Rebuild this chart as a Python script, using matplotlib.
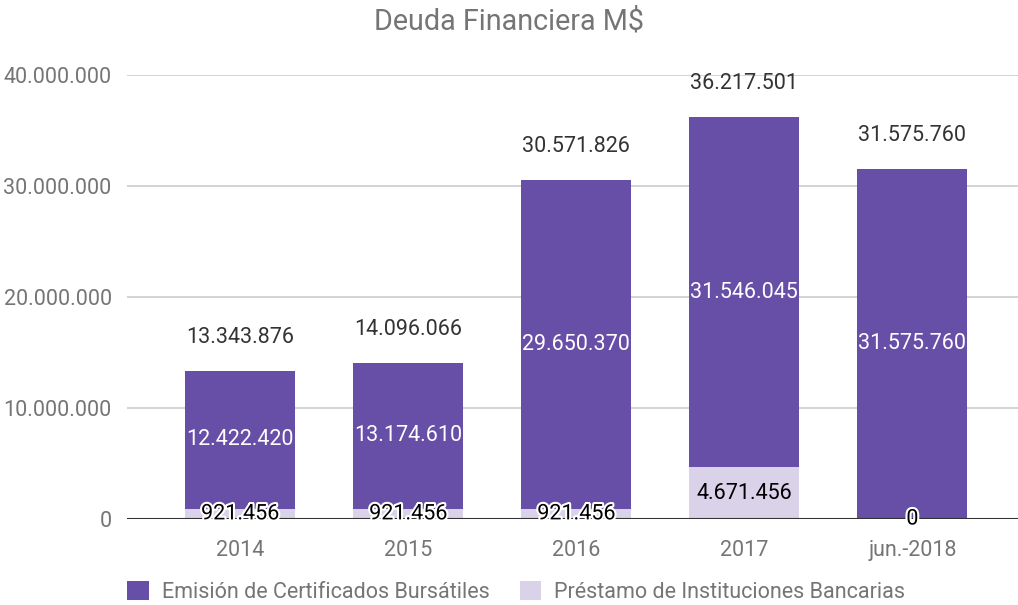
import matplotlib
matplotlib.use("Agg")
import matplotlib.pyplot as plt
import matplotlib.patheffects as pe
from matplotlib.patches import Patch

plt.rcParams['font.family'] = ['Roboto', 'DejaVu Sans']

categories = ["2014", "2015", "2016", "2017", "jun.-2018"]
emision = [12422420, 13174610, 29650370, 31546045, 31575760]
prestamo = [921456, 921456, 921456, 4671456, 0]
totals = [13343876, 14096066, 30571826, 36217501, 31575760]
yticks = [0, 10000000, 20000000, 30000000, 40000000]

dark = "#674ea7"
light = "#d9d2e9"
gray = "#757575"
FS = 15.5

def fmt(v):
    return f"{v:,.0f}".replace(",", ".")

W, H = 1018, 605
fig = plt.figure(figsize=(W/100, H/100), dpi=100)
ax = fig.add_axes([127/W, 1-519/H, (W-127)/W, (519-75)/H])

x = list(range(len(categories)))
bw = 0.655
ax.bar(x, prestamo, bw, color=light, zorder=2)
ax.bar(x, emision, bw, bottom=prestamo, color=dark, zorder=2)

ax.set_xlim((127-240)/168.1, (1018-240)/168.1)
ax.set_ylim(0, 40000000)
ax.set_yticks(yticks)
ax.set_yticklabels([fmt(v) for v in yticks])
ax.set_xticks(x)
ax.set_xticklabels(categories)
ax.tick_params(axis='both', length=0, labelsize=FS, colors=gray)
ax.tick_params(axis='y', pad=11)
ax.tick_params(axis='x', pad=15)
for s in ax.spines.values():
    s.set_visible(False)
ax.grid(axis='y', color="#cccccc", linewidth=1.2, zorder=0)
ax.set_axisbelow(True)
ax.axhline(0, color="#333333", linewidth=1.5, zorder=3)

halo = [pe.withStroke(linewidth=3, foreground="white")]
for i in x:
    p = prestamo[i]
    if p > 2000000:
        ax.text(i, p/2, fmt(p), ha='center', va='center', fontsize=FS, color='black', zorder=5)
    else:
        ax.text(i, p/2, fmt(p), ha='center', va='center', fontsize=FS, color='black',
                path_effects=halo, zorder=5)
    ax.text(i, p + emision[i]/2, fmt(emision[i]), ha='center', va='center',
            fontsize=FS, color='white', zorder=5)
    ax.text(i, totals[i] + 3000000, fmt(totals[i]), ha='center', va='center',
            fontsize=FS, color="#333333", zorder=5, clip_on=False)

fig.text(0.5, 1-22/H, "Deuda Financiera M$", ha='center', va='center', fontsize=20.7, color=gray)

handles = [Patch(facecolor=dark, edgecolor='none'), Patch(facecolor=light, edgecolor='none')]
fig.legend(handles, ["Emisión de Certificados Bursátiles", "Préstamo de Instituciones Bancarias"],
           loc='center left', bbox_to_anchor=(108/W, 1-592/H), ncol=2, frameon=False,
           fontsize=FS, labelcolor=gray, handlelength=1.0, handleheight=1.0,
           handletextpad=0.6, columnspacing=1.4)

fig.savefig("out.png", dpi=100)
